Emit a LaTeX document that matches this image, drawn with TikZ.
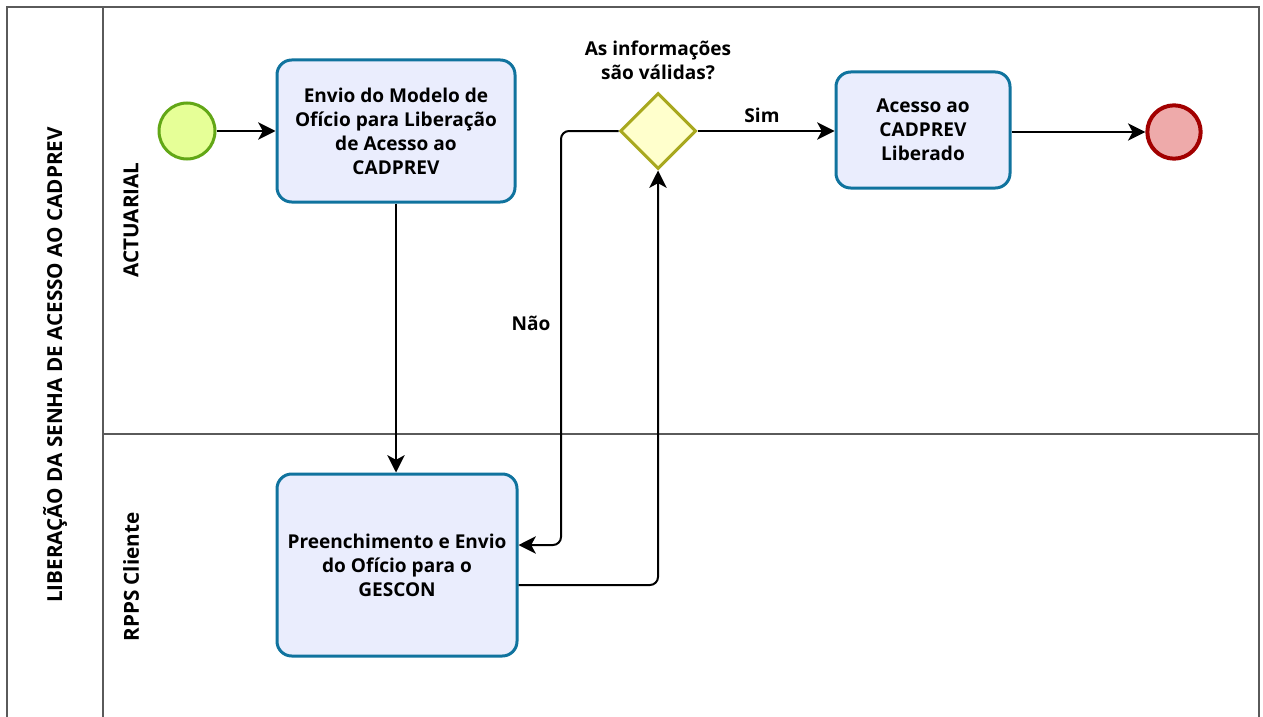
\documentclass[tikz,border=0pt]{standalone}
\usepackage{fontspec}
\setmainfont{Open Sans}
\usetikzlibrary{arrows.meta,shapes.geometric}
\definecolor{taskfill}{HTML}{EAEDFD}
\definecolor{taskline}{HTML}{10739E}
\definecolor{startfill}{HTML}{E6FF97}
\definecolor{startline}{HTML}{62A716}
\definecolor{gwfill}{HTML}{FFFFCC}
\definecolor{gwline}{HTML}{A8A81E}
\definecolor{endfill}{HTML}{EEAAAA}
\definecolor{endline}{HTML}{A20000}
\definecolor{frameline}{HTML}{5A5A5A}
\tikzset{
  lbl/.style={font=\bfseries\fontsize{14.3}{18}\selectfont, align=center, text=black},
  lanelbl/.style={font=\bfseries\fontsize{15.5}{18}\selectfont, align=center, text=black, rotate=90},
  task/.style={lbl, draw=taskline, fill=taskfill, line width=2.25pt, rounded corners=11pt, inner sep=0pt},
  flow/.style={draw=black, line width=1.5pt, -{Stealth[length=13pt,width=13pt,inset=3.5pt]}, rounded corners=6pt},
  frame/.style={draw=frameline, line width=1.5pt},
}
\begin{document}
\begin{tikzpicture}[x=0.75pt,y=-0.75pt]
\useasboundingbox (0,0) rectangle (1263,717);
\clip (0,0) rectangle (1263,717);
\fill[white] (0,0) rectangle (1263,717);
% frame
\draw[frame] (7,730) -- (7,7) -- (1259,7) -- (1259,730);
\draw[frame] (103,7) -- (103,730);
\draw[frame] (103,434) -- (1259,434);
\node[lanelbl] (pool) at (55,365) {LIBERAÇÃO DA SENHA DE ACESSO AO CADPREV};
\node[lanelbl] (lane1) at (131,220) {ACTUARIAL};
\node[lanelbl] (lane2) at (131,577) {RPPS Cliente};
% nodes
\node[circle, draw=startline, fill=startfill, line width=2.25pt, minimum size=42pt, inner sep=0pt] (start) at (187,131) {};
\node[task, minimum width=178.5pt, minimum height=106.5pt] (t1) at (396,131) {Envio do Modelo de\\Ofício para Liberação\\de Acesso ao\\CADPREV};
\node[diamond, draw=gwline, fill=gwfill, line width=2.25pt, minimum width=57pt, minimum height=57pt, inner sep=0pt] (g) at (658,131) {};
\node[lbl] (gq) at (658,60) {As informações\\são válidas?};
\node[task, minimum width=130.5pt, minimum height=87pt] (t2) at (923,130) {Acesso ao\\CADPREV\\Liberado};
\node[circle, draw=endline, fill=endfill, line width=3pt, minimum size=40pt, inner sep=0pt] (end) at (1174,132) {};
\node[task, minimum width=180pt, minimum height=136.5pt] (t3) at (397,565) {Preenchimento e Envio\\do Ofício para o\\GESCON};
% connectors
\draw[flow] (start) -- (start -| t1.west);
\draw[flow] (t1.south) -- (t1.south |- t3.north);
\coordinate (c1) at (561,131);
\coordinate (c2) at (561,545);
\draw[flow] (g.west) -- (c1) -- (c2) -- (c2 -| t3.east);
\coordinate (c3) at (658,585);
\draw[flow] (t3.east |- c3) -- (c3) -- (g.south);
\draw[flow] (g.east) -- (g.east -| t2.west);
\draw[flow] (t2.east |- end) -- (end.west);
\node[lbl] (nao) at (531,323) {Não};
\node[lbl] (sim) at (762,115) {Sim};
\end{tikzpicture}
\end{document}
